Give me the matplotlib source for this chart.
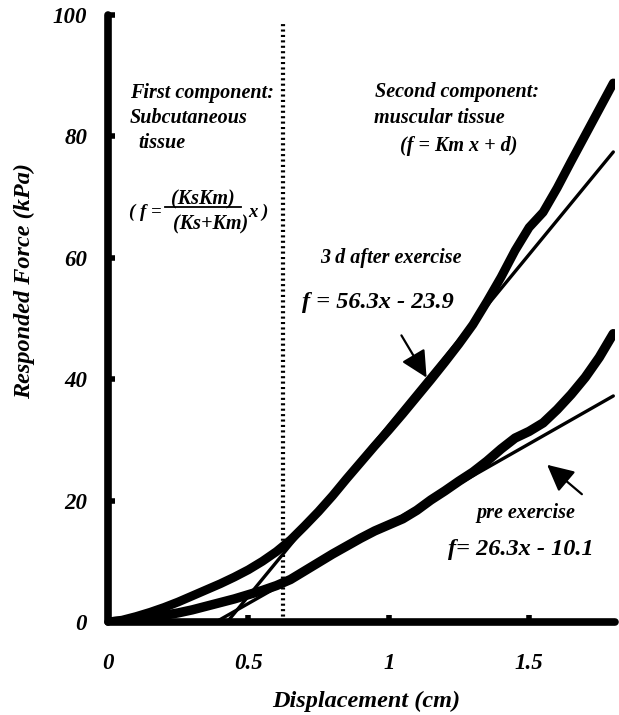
import matplotlib
matplotlib.use("Agg")
import matplotlib.pyplot as plt
from matplotlib.patches import FancyArrowPatch

# displacement (cm) vs responded force (kPa)
x_vals = [0, 0.05, 0.1, 0.15, 0.2, 0.25, 0.3, 0.35, 0.4, 0.45, 0.5, 0.55,
          0.6, 0.65, 0.7, 0.75, 0.8, 0.85, 0.9, 0.95, 1.0, 1.05, 1.1, 1.15,
          1.2, 1.25, 1.3, 1.35, 1.4, 1.45, 1.5, 1.55, 1.6, 1.65, 1.7, 1.75, 1.8]
f_after = [0, 0.3, 0.9, 1.6, 2.4, 3.3, 4.3, 5.3, 6.3, 7.4, 8.6, 10.0,
           11.6, 13.5, 15.8, 18.2, 20.8, 23.6, 26.3, 29.0, 31.6, 34.3, 37.1, 39.9,
           42.8, 45.8, 49.0, 52.8, 56.8, 61.2, 65.0, 67.5, 71.5, 75.9, 80.2, 84.5, 88.8]
f_pre = [0, 0.15, 0.4, 0.7, 1.1, 1.5, 2.0, 2.6, 3.2, 3.8, 4.5, 5.2,
         6.0, 7.0, 8.4, 9.8, 11.2, 12.5, 13.8, 15.0, 16.0, 17.0, 18.4, 20.1,
         21.6, 23.2, 24.7, 26.5, 28.5, 30.3, 31.4, 32.8, 35.0, 37.5, 40.3, 43.6, 47.5]

# linear fits for the muscular part (slope, intercept)
fit_after = (56.3, -23.9)
fit_pre = (26.3, -10.1)
fit_x_end = 1.8
boundary_x = 0.625

x_ticks = [0, 0.5, 1, 1.5]
x_tick_labels = ["0", "0.5", "1", "1.5"]
y_ticks = [0, 20, 40, 60, 80, 100]

font = "Liberation Serif"
tfont = dict(family=font, weight="bold", style="italic")

fig = plt.figure(figsize=(6.19, 7.15), dpi=100)
ax = fig.add_axes([108 / 619, 93 / 715, 507 / 619, 607 / 715])

ax.plot(x_vals, f_after, color="black", lw=6.4, solid_capstyle="round",
        solid_joinstyle="round")
ax.plot(x_vals, f_pre, color="black", lw=6.8, solid_capstyle="round",
        solid_joinstyle="round")

for k, d in (fit_after, fit_pre):
    x0 = -d / k
    ax.plot([x0, fit_x_end], [0, k * fit_x_end + d], color="black", lw=2.4,
            solid_capstyle="round")

ax.plot([boundary_x, boundary_x], [0, 98.8], color="black", lw=3,
        linestyle=(0, (0.5, 0.8)))

ax.set_xlim(0, 1.806)
ax.set_ylim(0, 100)
for s in ("top", "right"):
    ax.spines[s].set_visible(False)
for s in ("left", "bottom"):
    ax.spines[s].set_linewidth(5.5)
    ax.spines[s].set_capstyle("round")

ax.set_xticks(x_ticks)
ax.set_xticklabels(x_tick_labels)
ax.set_yticks(y_ticks)
ax.tick_params(axis="x", direction="in", length=5, width=4, pad=22)
ax.tick_params(axis="y", direction="in", length=5, width=4, pad=15)
for lab in ax.get_xticklabels() + ax.get_yticklabels():
    lab.set_fontfamily(font)
    lab.set_fontweight("bold")
    lab.set_fontstyle("italic")
    lab.set_fontsize(16.5)

ax.set_xlabel("Displacement (cm)", fontsize=17.5, va="center", **tfont)
ax.set_ylabel("Responded Force (kPa)", fontsize=17.5, va="center", **tfont)
ax.xaxis.set_label_coords(0.509, -0.130)
ax.yaxis.set_label_coords(-0.164, 0.562)


def ftxt(px, py, s, size=14.5, ha="left"):
    fig.text(px / 619, 1 - py / 715, s, fontsize=size, va="center", ha=ha, **tfont)


ftxt(130, 93, "First component:")
ftxt(130, 118, "Subcutaneous")
ftxt(138, 143, "tissue")
ftxt(129, 212, "( f =", size=13.5)
ftxt(203, 199, "(KsKm)", size=14.5, ha="center")
ftxt(211, 224, "(Ks+Km)", size=14.5, ha="center")
ftxt(248, 212, "x )", size=13.5)
fig.add_artist(plt.Line2D([165 / 619, 241 / 619], [1 - 207 / 715, 1 - 207 / 715],
                          color="black", lw=1.3))

ftxt(375, 92, "Second component:")
ftxt(374, 118, "muscular tissue")
ftxt(400, 146, "(f = Km x + d)")

ftxt(320, 258, "3 d after exercise")
ftxt(302, 303, "f = 56.3x - 23.9", size=17.5)
ftxt(476, 513, "pre exercise")
ftxt(448, 550, "f= 26.3x - 10.1", size=17.5)

arrow = dict(arrowstyle="-|>,head_length=0.9,head_width=0.45", color="black", lw=1.6)
fig.add_artist(FancyArrowPatch(
    (400 / 619, 1 - 333 / 715), (428 / 619, 1 - 380 / 715),
    transform=fig.transFigure, mutation_scale=18, **arrow))
fig.add_artist(FancyArrowPatch(
    (584 / 619, 1 - 496 / 715), (545 / 619, 1 - 463 / 715),
    transform=fig.transFigure, mutation_scale=18, **arrow))

fig.savefig("out.png", dpi=100)
